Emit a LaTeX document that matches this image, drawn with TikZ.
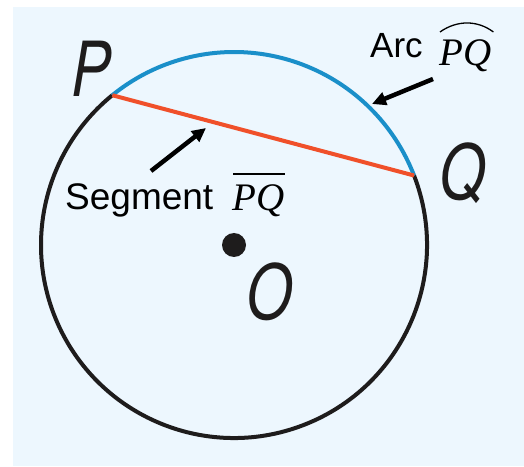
\documentclass[tikz,border=0pt]{standalone}
\usepackage{fontspec}
\setmainfont{Liberation Sans}
\newfontfamily\lblfont{TeX Gyre Heros}
\newfontfamily\serifit{Liberation Serif}
\usetikzlibrary{arrows.meta,calc}
\definecolor{bgblue}{HTML}{EDF7FE}
\definecolor{arcblue}{HTML}{1A8FC9}
\definecolor{segred}{HTML}{F0502A}
\definecolor{ink}{HTML}{1E1C1C}
\tikzset{
  ptlabel/.style={font=\lblfont\itshape\fontsize{76}{76}\selectfont, xscale=0.78, inner sep=0pt, text=ink},
  caption/.style={font=\fontsize{35}{35}\selectfont, inner sep=0pt, anchor=base west},
  mathlbl/.style={font=\serifit\itshape\fontsize{39}{39}\selectfont, inner sep=0pt, anchor=base west},
  pointer/.style={line width=4.5pt, -{Triangle[length=14pt,width=13pt]}, black},
  circ/.style={line width=4pt, ink},
}
\begin{document}
\begin{tikzpicture}[x=1pt,y=1pt]
\useasboundingbox (0,0) rectangle (524,466);
\fill[bgblue] (13,0) rectangle (524,459);
\coordinate (C) at (234,221);
\coordinate (P) at ($(C)+(129.1:193)$);
\coordinate (Q) at ($(C)+(21.1:193)$);
% black part of circle
\draw[circ] (Q) arc[start angle=21.1, end angle=-230.9, radius=193];
% blue arc
\draw[line width=4pt, arcblue] (P) arc[start angle=129.1, end angle=21.1, radius=193];
% red segment
\draw[line width=4pt, segred] (P) -- (Q);
% center dot
\fill[ink] (C) circle[radius=12];
% point labels
\node[ptlabel] (lP) at (91,397) {P};
\node[ptlabel] (lQ) at (463,293) {Q};
\node[ptlabel] (lO) at (270,174) {O};
% arc label
\node[caption] (arc) at (370,408) {Arc};
\node[mathlbl] (arcpq) at (439,400) {PQ};
\draw[line width=1.3pt] ($(arcpq.north west)+(1,8)$) .. controls ($(arcpq.north west)+(18,20)$) and ($(arcpq.north east)+(-14,20)$) .. ($(arcpq.north east)+(2,8)$);
\coordinate (arctail) at (433,387);
\coordinate (archead) at (372,362);
\draw[pointer] (arctail) -- (archead);
% segment label
\node[caption, font=\fontsize{37}{37}\selectfont] (seg) at (65,256) {Segment};
\node[mathlbl] (segpq) at (232,255) {PQ};
\draw[line width=1.3pt] ($(segpq.north west)+(1,11)$) -- ($(segpq.north east)+(1,11)$);
\coordinate (segtail) at (151,295);
\coordinate (seghead) at (206,338);
\draw[pointer] (segtail) -- (seghead);
\end{tikzpicture}
\end{document}
